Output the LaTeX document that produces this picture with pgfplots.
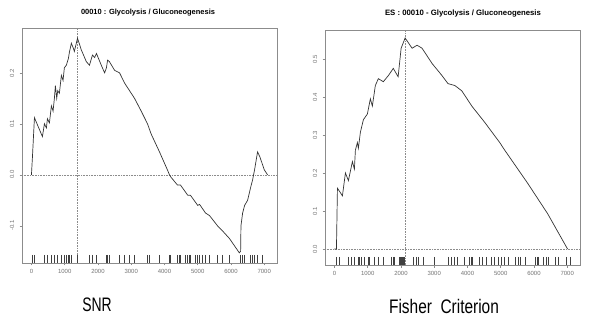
\documentclass[border=0pt]{standalone}
\usepackage{pgfplots}
\pgfplotsset{compat=1.18}
\usepackage{fontspec}
\setmainfont{Liberation Sans}
\definecolor{boxgray}{gray}{0.55}
\definecolor{lblgray}{gray}{0.45}
\definecolor{curve}{gray}{0.2}
\begin{document}
\begin{tikzpicture}
\useasboundingbox (0,0) rectangle (592bp,333bp);
\pgfplotsset{
  gsea/.style={
    scale only axis, width=255bp, height=235bp,
    axis line style={boxgray, line width=0.6bp},
    tick style={boxgray, line width=0.5bp},
    tick align=outside, tick pos=left, major tick length=2.5bp,
    every tick label/.append style={font=\fontsize{6}{7}\selectfont, text=lblgray},
    xtick={0,1000,2000,3000,4000,5000,6000,7000},
    xticklabels={0,1000,2000,3000,4000,5000,6000,7000},
    xticklabel style={inner ysep=4bp},
    yticklabel style={rotate=90, anchor=south, inner ysep=5bp},
    clip=false,
  },
  curveline/.style={curve, line width=0.7bp},
  refline/.style={boxgray, densely dotted, line width=0.6bp},
  rug/.style={only marks, mark=|, mark size=4bp, mark options={black!75, line width=0.5bp}},
}
% ---------- Left panel: SNR ----------
\begin{axis}[gsea, at={(22bp,70bp)}, anchor=south west,
  xmin=-284, xmax=7384, ymin=-0.173, ymax=0.288,
  ytick={-0.1,0,0.1,0.2}, yticklabels={-0.1,0.0,0.1,0.2}]
\addplot[refline] coordinates {(-284,0) (7384,0)};
\addplot[refline] coordinates {(1385,-0.173) (1385,0.288)};
\addplot[curveline] coordinates {
(0,0.000) (30,0.035) (90,0.112) (200,0.095) (330,0.075) (390,0.100) (450,0.092)
(480,0.110) (540,0.102) (600,0.135) (650,0.125) (690,0.150) (720,0.175) (760,0.150)
(790,0.165) (840,0.160) (900,0.195) (950,0.185) (990,0.210) (1050,0.215) (1110,0.228)
(1140,0.240) (1200,0.258) (1250,0.250) (1290,0.242) (1385,0.268) (1500,0.245)
(1650,0.222) (1745,0.215) (1835,0.235) (1900,0.230) (1955,0.238) (2100,0.215)
(2200,0.200) (2255,0.210) (2290,0.225) (2345,0.222) (2500,0.205) (2650,0.200)
(2800,0.180) (2950,0.165) (3100,0.150) (3300,0.125) (3490,0.100) (3600,0.080)
(3850,0.045) (4100,0.008) (4150,0.000) (4200,-0.005) (4390,-0.020) (4480,-0.020)
(4700,-0.040) (4780,-0.040) (5000,-0.060) (5055,-0.058) (5235,-0.075) (5355,-0.080)
(5595,-0.100) (5745,-0.110) (5955,-0.125) (6250,-0.153) (6290,-0.150) (6300,-0.100)
(6350,-0.075) (6410,-0.060) (6500,-0.050) (6590,-0.025) (6650,-0.010) (6710,0.010)
(6800,0.045) (6870,0.035) (7000,0.010) (7100,0.000)};
\addplot[rug] coordinates {
(30,-0.165) (90,-0.165) (390,-0.165) (480,-0.165) (600,-0.165) (690,-0.165) (780,-0.165)
(900,-0.165) (990,-0.165) (1050,-0.165) (1110,-0.165) (1140,-0.165) (1200,-0.165)
(1385,-0.165) (1745,-0.165) (1835,-0.165) (1955,-0.165) (2255,-0.165) (2285,-0.165)
(2345,-0.165) (2650,-0.165) (2800,-0.165) (2950,-0.165) (3100,-0.165) (3490,-0.165)
(3550,-0.165) (3850,-0.165) (4150,-0.165) (4180,-0.165) (4390,-0.165) (4450,-0.165)
(4480,-0.165) (4630,-0.165) (4690,-0.165) (4750,-0.165) (4780,-0.165) (4930,-0.165)
(5000,-0.165) (5055,-0.165) (5150,-0.165) (5235,-0.165) (5355,-0.165) (5595,-0.165)
(5745,-0.165) (5955,-0.165) (6290,-0.165) (6350,-0.165) (6410,-0.165) (6590,-0.165)
(6650,-0.165) (6710,-0.165) (6800,-0.165) (6950,-0.165)};
\end{axis}
% ---------- Right panel: Fisher ----------
\begin{axis}[gsea, at={(325bp,68bp)}, anchor=south west,
  xmin=-284, xmax=7384, ymin=-0.042, ymax=0.576,
  ytick={0,0.1,0.2,0.3,0.4,0.5}, yticklabels={0.0,0.1,0.2,0.3,0.4,0.5}]
\addplot[refline] coordinates {(-284,0) (7384,0)};
\addplot[refline] coordinates {(2125,-0.042) (2125,0.576)};
\addplot[curveline] coordinates {
(0,0.000) (60,0.000) (90,0.160) (240,0.140) (330,0.200) (420,0.180) (540,0.230)
(600,0.210) (630,0.260) (690,0.280) (720,0.265) (780,0.307) (870,0.340) (990,0.355)
(1080,0.395) (1140,0.376) (1230,0.430) (1320,0.448) (1470,0.440) (1620,0.456)
(1770,0.475) (1915,0.453) (2005,0.528) (2125,0.555) (2335,0.528) (2485,0.536)
(2635,0.528) (2935,0.488) (3235,0.456) (3415,0.435) (3620,0.430) (3830,0.416)
(4130,0.376) (4520,0.333) (4970,0.280) (5120,0.260) (5810,0.173) (6410,0.093)
(7010,0.000)};
\addplot[rug] coordinates {
(60,-0.031) (150,-0.031) (420,-0.031) (510,-0.031) (600,-0.031) (720,-0.031) (750,-0.031)
(810,-0.031) (900,-0.031) (1020,-0.031) (1050,-0.031) (1200,-0.031) (1320,-0.031)
(1470,-0.031) (1705,-0.031) (1765,-0.031) (1795,-0.031) (1945,-0.031) (1975,-0.031)
(2005,-0.031) (2035,-0.031) (2065,-0.031) (2095,-0.031) (2365,-0.031) (2455,-0.031)
(2515,-0.031) (2665,-0.031) (2995,-0.031) (3415,-0.031) (3500,-0.031) (3590,-0.031)
(3680,-0.031) (3890,-0.031) (4040,-0.031) (4100,-0.031) (4130,-0.031) (4340,-0.031)
(4430,-0.031) (4550,-0.031) (4730,-0.031) (4820,-0.031) (4940,-0.031) (5030,-0.031)
(5120,-0.031) (5240,-0.031) (5450,-0.031) (5540,-0.031) (5600,-0.031) (5750,-0.031)
(6050,-0.031) (6110,-0.031) (6140,-0.031) (6290,-0.031) (6380,-0.031) (6440,-0.031)
(6650,-0.031) (6740,-0.031) (6980,-0.031) (7100,-0.031)};
\end{axis}
% ---------- Titles and captions ----------
\node[font=\bfseries\fontsize{7.5}{8}\selectfont] at (148bp,320bp) {00010 : Glycolysis / Gluconeogenesis};
\node[font=\bfseries\fontsize{7.8}{8}\selectfont] at (463bp,319bp) {ES : 00010 - Glycolysis / Gluconeogenesis};
\node[font=\fontsize{14}{16}\selectfont] at (97bp,28bp) {\scalebox{1}[1.4]{SNR}};
\node[font=\fontsize{15.5}{17}\selectfont] at (444bp,27bp) {\scalebox{1}[1.27]{Fisher\ \ Criterion}};
\end{tikzpicture}
\end{document}
